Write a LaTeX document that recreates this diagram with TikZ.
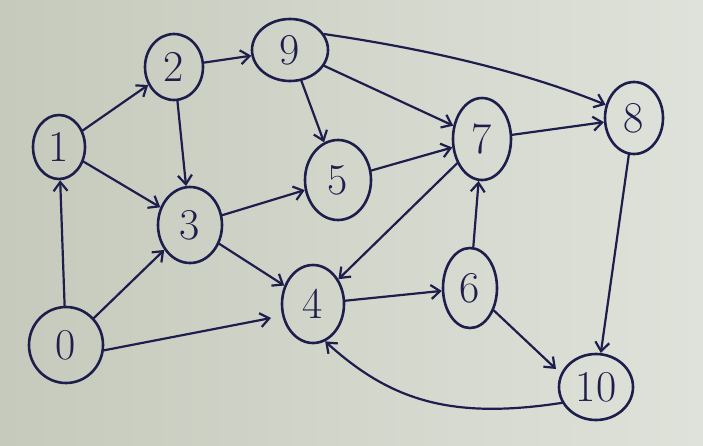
\documentclass[tikz,border=0pt]{standalone}
\usetikzlibrary{shapes.geometric,arrows.meta}
\definecolor{ink}{HTML}{1E1E4C}
\definecolor{paperL}{HTML}{C6CABC}
\definecolor{paperR}{HTML}{DEE2DA}
\begin{document}
\begin{tikzpicture}[x=1pt,y=-1pt,
  vert/.style={ellipse, draw=ink, line width=2.6pt, inner sep=0pt, text=ink,
    font=\fontsize{44}{44}\selectfont},
  edge/.style={draw=ink, line width=2.2pt, line cap=round,
    -{Straight Barb[length=9pt,width=14pt,line width=2.2pt]}}]
% paper
\shade[left color=paperL, right color=paperR] (0,0) rectangle (703,445);
\useasboundingbox (0,0) rectangle (703,445);

% vertices
\node[vert, minimum width=74pt, minimum height=76pt] (n0)  at (66,345)  {0};
\node[vert, minimum width=52pt, minimum height=64pt] (n1)  at (59,147)  {1};
\node[vert, minimum width=58pt, minimum height=66pt] (n2)  at (174,67)  {2};
\node[vert, minimum width=76pt, minimum height=62pt] (n9)  at (290,50)  {9};
\node[vert, minimum width=64pt, minimum height=76pt] (n3)  at (190,225) {3};
\node[vert, minimum width=66pt, minimum height=80pt] (n5)  at (338,180) {5};
\node[vert, minimum width=58pt, minimum height=82pt] (n7)  at (482,139) {7};
\node[vert, minimum width=58pt, minimum height=72pt] (n8)  at (634,118) {8};
\node[vert, minimum width=62pt, minimum height=78pt] (n4)  at (313,304) {4};
\node[vert, minimum width=54pt, minimum height=80pt] (n6)  at (470,288) {6};
\node[vert, minimum width=74pt, minimum height=66pt] (n10) at (596,387) {10};

% free ends of the two short arrows
\coordinate (t04) at (271,318);
\coordinate (t610) at (556,369);

% connectors
\draw[edge] (n0) -- (n1);
\draw[edge] (n0) -- (n3);
\draw[edge] (n0.-8) -- (t04);
\draw[edge] (n1) -- (n2);
\draw[edge] (n1) -- (n3);
\draw[edge] (n2) -- (n9);
\draw[edge] (n2) -- (n3);
\draw[edge] (n3) -- (n5);
\draw[edge] (n3) -- (n4);
\draw[edge] (n9) -- (n5);
\draw[edge] (n9) -- (n7);
\draw[edge] (n9.25) .. controls (420,48) and (520,70) .. (n8.155);
\draw[edge] (n5) -- (n7);
\draw[edge] (n7) -- (n8);
\draw[edge] (n7) -- (n4);
\draw[edge] (n4) -- (n6);
\draw[edge] (n6) -- (n7);
\draw[edge] (n6) -- (t610);
\draw[edge] (n8) -- (n10);
\draw[edge] (n10.205) .. controls (450,420) and (390,400) .. (n4.-72);
\end{tikzpicture}
\end{document}
